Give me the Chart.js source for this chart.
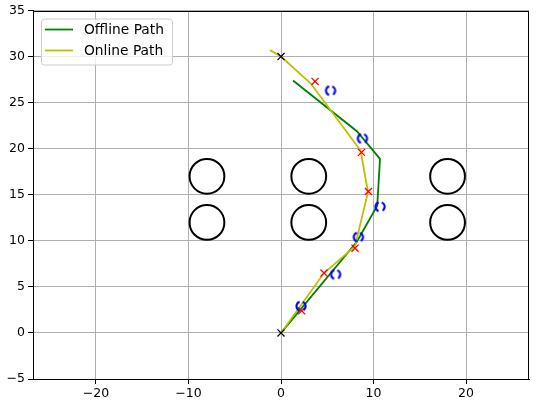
<!DOCTYPE html>
<html>
<head>
<meta charset="utf-8">
<script src="https://cdn.jsdelivr.net/npm/chart.js@4/dist/chart.umd.min.js"></script>
<style>
html,body{margin:0;padding:0;background:#fff;}
#wrap{width:538px;height:403px;position:relative;}
</style>
</head>
<body>
<div id="wrap"><canvas id="c" width="538" height="403"></canvas></div>
<script>
// ---- data ----
const offlineX = [0, 8.2, 10.4, 10.7, 8.2, 1.3];
const offlineY = [0, 9.9, 13.8, 18.9, 21.9, 27.4];
const onlineX = [0, 4.65, 8.0, 9.4, 8.6, 3.2, 0, -1.2];
const onlineY = [0, 6.5, 9.4, 15.3, 19.8, 27.1, 30, 30.7];
const redX = [2.24, 4.65, 8.0, 9.45, 8.7, 3.68];
const redY = [2.4, 6.5, 9.2, 15.35, 19.6, 27.3];
const blueX = [2.16, 5.9, 8.36, 10.7, 8.8, 5.35];
const blueY = [2.9, 6.35, 10.4, 13.7, 21.1, 26.3];
const blackX = [0, 0];
const blackY = [0, 30];
const obstacleX = [-8, 3, 18, -8, 3, 18];
const obstacleY = [17, 17, 17, 12, 12, 12];
const obstacleR = 1.88;
const xTicks = [-20, -10, 0, 10, 20];
const yTicks = [-5, 0, 5, 10, 15, 20, 25, 30, 35];
const xLimits = [-26.8, 26.8];
const yLimits = [-5, 35];
const seriesLabels = ['Offline Path', 'Online Path'];

const pts = (xs, ys) => xs.map((x, i) => ({x: x, y: ys[i]}));

// blue dashed-circle marker
function blueMarker() {
  const cv = document.createElement('canvas');
  cv.width = 16; cv.height = 16;
  const g = cv.getContext('2d');
  g.strokeStyle = '#0000ff';
  g.lineWidth = 2.2;
  g.beginPath(); g.arc(8, 8, 4.6, -1.2, 1.0); g.stroke();
  g.beginPath(); g.arc(8, 8, 4.6, 1.9, 4.4); g.stroke();
  return cv;
}

const FONT = 'DejaVu Sans';
const minus = v => String(v).replace('-', '\u2212');

const frame = {
  id: 'frame',
  afterDatasetsDraw(chart) {
    const a = chart.chartArea, ctx = chart.ctx;
    ctx.save();
    ctx.strokeStyle = '#000';
    ctx.lineWidth = 1;
    ctx.strokeRect(Math.round(a.left) + 0.5, Math.round(a.top) + 0.5,
      Math.round(a.right - a.left) - 1, Math.round(a.bottom - a.top) - 1);
    // legend
    const lx = a.left + 8, ly = a.top + 8, w = 131, h = 46;
    ctx.fillStyle = 'rgba(255,255,255,0.8)';
    ctx.strokeStyle = '#cccccc';
    ctx.beginPath();
    if (ctx.roundRect) ctx.roundRect(lx + 0.5, ly + 0.5, w, h, 3); else ctx.rect(lx + 0.5, ly + 0.5, w, h);
    ctx.fill(); ctx.stroke();
    const cols = ['#008000', '#bfbf00'];
    ctx.font = '13.8px "' + FONT + '"';
    ctx.textBaseline = 'middle';
    seriesLabels.forEach((t, i) => {
      const yy = ly + 11 + i * 21;
      ctx.strokeStyle = cols[i];
      ctx.lineWidth = 1.8;
      ctx.beginPath(); ctx.moveTo(lx + 4, yy); ctx.lineTo(lx + 32, yy); ctx.stroke();
      ctx.fillStyle = '#000';
      ctx.fillText(t, lx + 43, yy + 1);
    });
    ctx.restore();
  }
};

new Chart(document.getElementById('c'), {
  type: 'scatter',
  data: {
    datasets: [
      {label: 'black', data: pts(blackX, blackY), pointStyle: 'crossRot', pointRadius: 5,
        borderColor: '#000', borderWidth: 1.3, showLine: false, order: 0},
      {label: 'blue', data: pts(blueX, blueY), pointStyle: blueMarker(), showLine: false, order: 1},
      {label: 'red', data: pts(redX, redY), pointStyle: 'crossRot', pointRadius: 5,
        borderColor: '#ff0000', borderWidth: 1.3, showLine: false, order: 2},
      {label: seriesLabels[1], data: pts(onlineX, onlineY), showLine: true, borderColor: '#bfbf00',
        borderWidth: 1.8, pointRadius: 0, fill: false, tension: 0, order: 3},
      {label: seriesLabels[0], data: pts(offlineX, offlineY), showLine: true, borderColor: '#008000',
        borderWidth: 1.8, pointRadius: 0, fill: false, tension: 0, order: 4},
      {label: 'obstacles', data: pts(obstacleX, obstacleY), showLine: false, pointStyle: 'circle',
        backgroundColor: 'rgba(0,0,0,0)', borderColor: '#000', borderWidth: 2,
        pointRadius: (ctx) => {
          const s = ctx.chart.scales.x;
          if (!s) return 17;
          return Math.abs(s.getPixelForValue(obstacleR) - s.getPixelForValue(0));
        }, order: 5}
    ]
  },
  options: {
    responsive: false,
    animation: false,
    devicePixelRatio: 1,
    layout: {padding: {top: 9, right: 9, left: 0, bottom: 0}},
    plugins: {legend: {display: false}, tooltip: {enabled: false}},
    elements: {point: {hoverRadius: 0}},
    scales: {
      x: {
        type: 'linear', min: xLimits[0], max: xLimits[1],
        afterBuildTicks: s => { s.ticks = xTicks.map(v => ({value: v})); },
        afterFit: s => { s.height = 24; },
        grid: {color: '#b0b0b0', lineWidth: 1, tickColor: '#000', tickLength: 5, tickWidth: 1},
        border: {display: true, color: '#000', width: 1},
        ticks: {color: '#000', font: {family: FONT, size: 12.5}, padding: 2, maxRotation: 0,
          callback: v => minus(v)}
      },
      y: {
        type: 'linear', min: yLimits[0], max: yLimits[1],
        afterBuildTicks: s => { s.ticks = yTicks.map(v => ({value: v})); },
        afterFit: s => { s.width = 33; },
        grid: {color: '#b0b0b0', lineWidth: 1, tickColor: '#000', tickLength: 5, tickWidth: 1},
        border: {display: true, color: '#000', width: 1},
        ticks: {color: '#000', font: {family: FONT, size: 12.5}, padding: 3,
          callback: v => minus(v)}
      }
    }
  },
  plugins: [frame]
});
</script>
</body>
</html>
